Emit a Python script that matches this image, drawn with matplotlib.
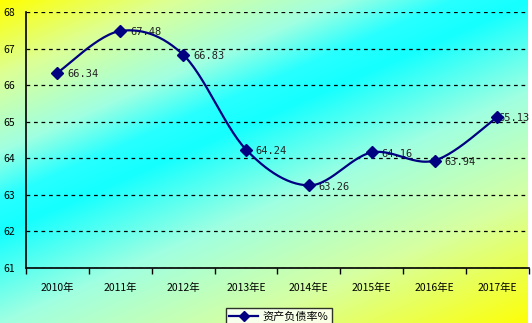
import numpy as np
import matplotlib
matplotlib.use('Agg')
import matplotlib.pyplot as plt
from matplotlib.lines import Line2D

# data
years = ['2010年', '2011年', '2012年', '2013年E', '2014年E', '2015年E', '2016年E', '2017年E']
ratio = [66.34, 67.48, 66.83, 64.24, 63.26, 64.16, 63.94, 65.13]
series_name = '资产负债率%'

plt.rcParams['font.family'] = ['Noto Sans CJK SC', 'DejaVu Sans']

W, H = 532, 323
fig = plt.figure(figsize=(W / 100, H / 100), dpi=100)
fig.patch.set_facecolor('white')

# diagonal yellow-cyan-yellow background
bg = fig.add_axes([0, 0, 0.992, 1])
bg.set_axis_off()
px_x, px_y = np.meshgrid(np.arange(W), np.arange(H))
s = px_x / 495 + px_y / 215
stops = [0, 0.35, 0.7, 0.92, 1.08, 1.5, 2.0, 2.6]
r = [255, 220, 160, 40, 20, 160, 215, 255]
g = [255, 255, 255, 255, 255, 255, 255, 255]
b = [0, 150, 225, 255, 255, 225, 160, 0]
img = np.dstack([np.interp(s, stops, r), np.interp(s, stops, g), np.interp(s, stops, b)]) / 255
bg.imshow(img, aspect='auto', extent=[0, 1, 0, 1])

ax = fig.add_axes([0.049, 0.17, 0.945, 0.793])
ax.set_facecolor('none')

x = np.arange(len(years))
y = np.array(ratio)

# smoothed line (catmull-rom like excel)
xs, ys = [], []
px = np.concatenate([[x[0]], x, [x[-1]]])
py = np.concatenate([[y[0]], y, [y[-1]]])
for i in range(1, len(px) - 2):
    t = np.linspace(0, 1, 30)
    p0, p1, p2, p3 = py[i - 1], py[i], py[i + 1], py[i + 2]
    q0, q1, q2, q3 = px[i - 1], px[i], px[i + 1], px[i + 2]
    c1y = p1 + (p2 - p0) / 6
    c2y = p2 - (p3 - p1) / 6
    c1x = q1 + (q2 - q0) / 6
    c2x = q2 - (q3 - q1) / 6
    xs.extend((1 - t) ** 3 * q1 + 3 * (1 - t) ** 2 * t * c1x + 3 * (1 - t) * t ** 2 * c2x + t ** 3 * q2)
    ys.extend((1 - t) ** 3 * p1 + 3 * (1 - t) ** 2 * t * c1y + 3 * (1 - t) * t ** 2 * c2y + t ** 3 * p2)
ax.plot(xs, ys, color='#000080', lw=1.6, zorder=3)
ax.plot(x, y, linestyle='none', marker='D', markersize=6.5, color='#000080', zorder=4)

for i, (xi, yi) in enumerate(zip(x, y)):
    dx = 1 if i == len(x) - 1 else 7
    ax.annotate('%.2f' % yi, (xi, yi), xytext=(dx, -1), textcoords='offset points',
                ha='left', va='center', fontsize=7.5, family='DejaVu Sans Mono', color='#222222', zorder=2)

ax.set_xlim(-0.5, len(years) - 0.5)
ax.set_ylim(61, 68)
ax.set_yticks(range(61, 69))
ax.tick_params(axis='y', length=0, pad=8, labelsize=7.5)
ax.set_xticks(x)
ax.set_xticklabels(years)
ax.set_xticks(np.arange(-0.5, len(years)), minor=True)
ax.tick_params(axis='x', which='major', length=0, pad=10.5, labelsize=7.5)
ax.tick_params(axis='x', which='minor', length=4, width=1, direction='out')
ax.grid(axis='y', color='black', linestyle=(0, (3, 3)), linewidth=0.9)
for sp in ['top', 'right']:
    ax.spines[sp].set_visible(False)
ax.spines['left'].set_linewidth(1.2)
ax.spines['bottom'].set_linewidth(1.2)

handle = Line2D([], [], color='#000080', lw=1.6, marker='D', markersize=5)
leg = fig.legend([handle], [series_name], loc='lower center', bbox_to_anchor=(0.524, -0.025),
                 frameon=True, fancybox=False, fontsize=8, handlelength=2.6, borderpad=0.3,
                 handletextpad=0.4)
leg.get_frame().set_edgecolor('black')
leg.get_frame().set_linewidth(1)
leg.get_frame().set_facecolor('white')

fig.savefig('out.png', dpi=100)
